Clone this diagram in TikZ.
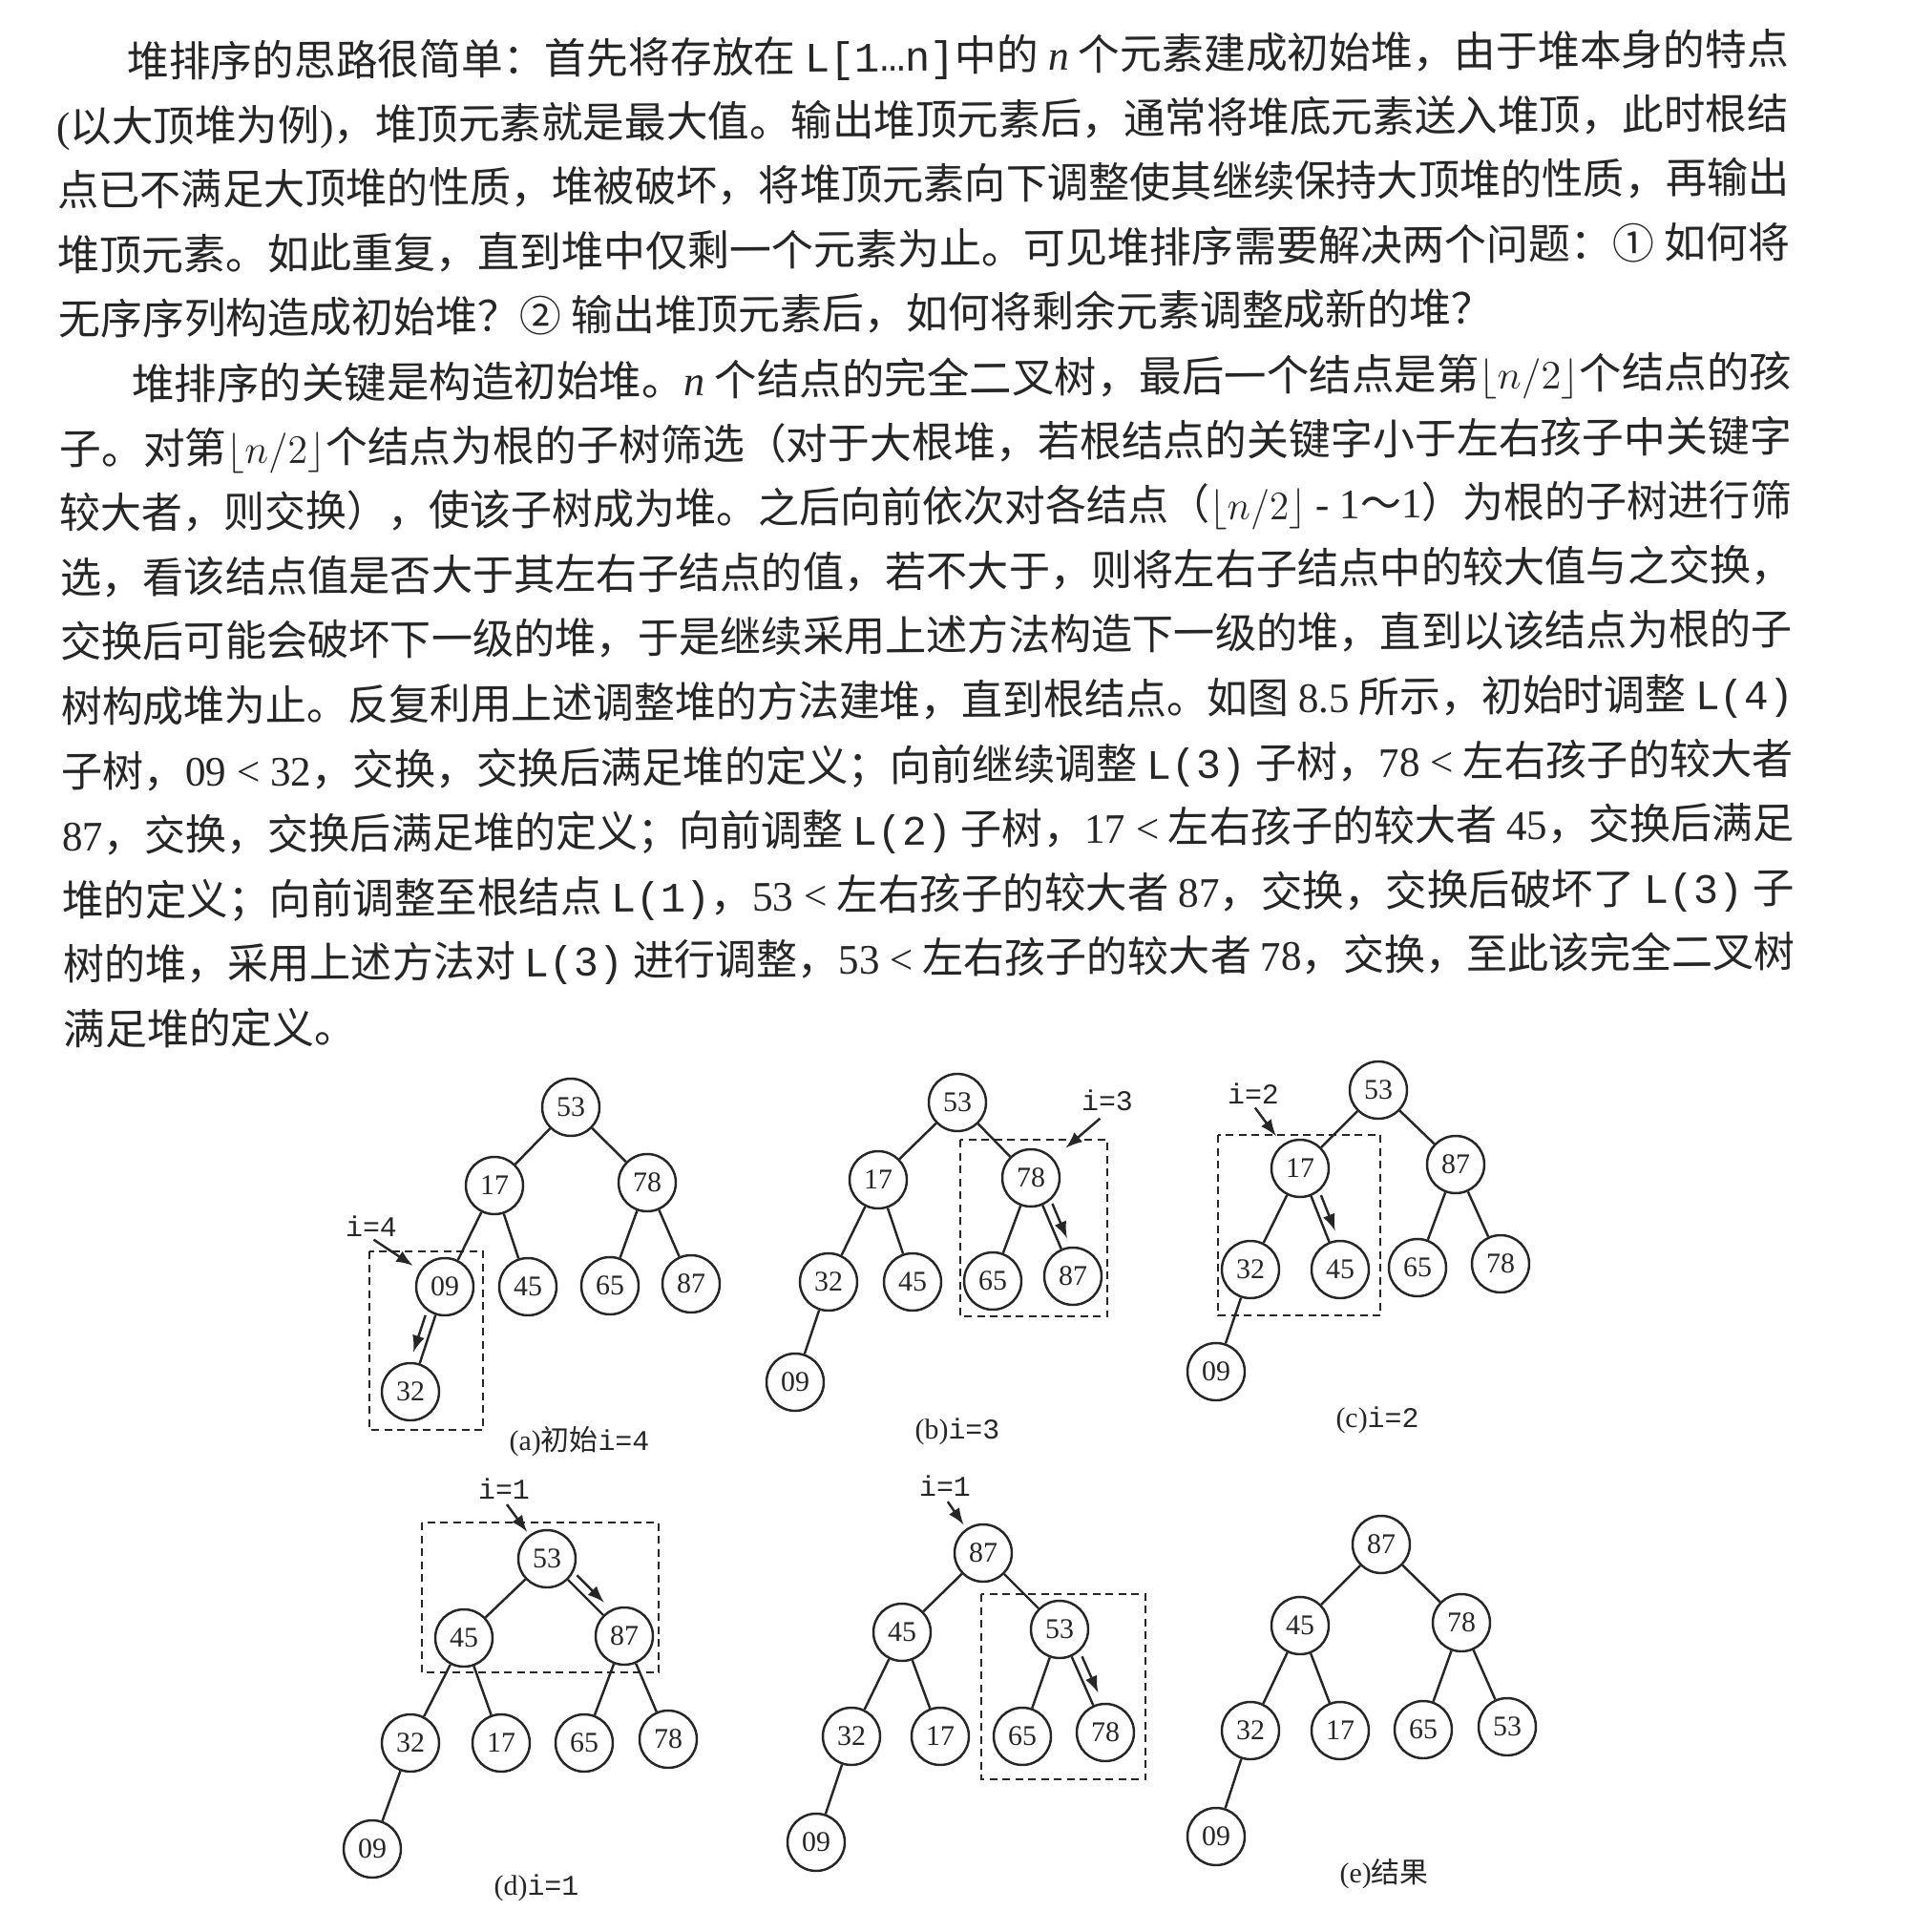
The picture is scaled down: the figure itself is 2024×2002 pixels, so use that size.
\documentclass[tikz,border=0pt]{standalone}
\usepackage{fontspec}
\usepackage{graphicx}
\setmainfont{Noto Sans CJK SC}
\setmonofont{Liberation Mono}
\newfontfamily\lat{Liberation Serif}
\usetikzlibrary{calc}
\newcommand\para[4]{\node[txt] at (#1,#2) {\resizebox{#3}{\height}{#4}};}
\newcommand\swap[3]{\draw[->] ($(#1)!.3!(#2)!1mm!#3:(#2)$) -- ($(#1)!.65!(#2)!1mm!#3:(#2)$);}
\tikzset{
  nd/.style={circle,draw,minimum size=6mm,inner sep=0pt,font=\lat\fontsize{8.5pt}{10pt}\selectfont},
  lbl/.style={inner sep=0pt,font=\ttfamily\fontsize{8.5pt}{10pt}\selectfont},
  capt/.style={inner sep=0pt,font=\fontsize{8.5pt}{10pt}\selectfont},
  dbox/.style={dash pattern=on .8mm off .55mm},
  txt/.style={anchor=base west,rotate=.45,inner sep=0pt,font=\fontsize{12.5pt}{15pt}\selectfont}
}
\begin{document}
\begin{tikzpicture}[x=.1mm,y=-.1mm,>=latex,line width=.7pt,color=black!85]
\fill[white] (0,0) rectangle (2024,2002);
\useasboundingbox (0,0) rectangle (2024,2002);
% text
\para{132}{81}{174.1mm}{堆排序的思路很简单：首先将存放在 \texttt{L[1…n]}中的 {\lat\itshape n} 个元素建成初始堆，由于堆本身的特点}
\para{58}{149}{181.5mm}{{\lat(}以大顶堆为例{\lat)}，堆顶元素就是最大值。输出堆顶元素后，通常将堆底元素送入堆顶，此时根结}
\para{59}{216}{181.5mm}{点已不满足大顶堆的性质，堆被破坏，将堆顶元素向下调整使其继续保持大顶堆的性质，再输出}
\para{59}{284}{181.5mm}{堆顶元素。如此重复，直到堆中仅剩一个元素为止。可见堆排序需要解决两个问题：① 如何将}
\node[txt] at (60,351) {无序序列构造成初始堆？② 输出堆顶元素后，如何将剩余元素调整成新的堆？};
\para{137}{419}{173.9mm}{堆排序的关键是构造初始堆。{\lat\itshape n} 个结点的完全二叉树，最后一个结点是第$\lfloor n/2\rfloor$个结点的孩}
\para{61}{487}{181.5mm}{子。对第$\lfloor n/2\rfloor$个结点为根的子树筛选（对于大根堆，若根结点的关键字小于左右孩子中关键字}
\para{61}{554}{181.5mm}{较大者，则交换），使该子树成为堆。之后向前依次对各结点（$\lfloor n/2\rfloor$ {\lat - 1}～{\lat 1}）为根的子树进行筛}
\para{62}{622}{181.5mm}{选，看该结点值是否大于其左右子结点的值，若不大于，则将左右子结点中的较大值与之交换，}
\para{62}{689}{181.5mm}{交换后可能会破坏下一级的堆，于是继续采用上述方法构造下一级的堆，直到以该结点为根的子}
\para{63}{757}{181.5mm}{树构成堆为止。反复利用上述调整堆的方法建堆，直到根结点。如图 {\lat 8.5} 所示，初始时调整 \texttt{L(4)}}
\para{63}{825}{181.5mm}{子树，{\lat 09 < 32}，交换，交换后满足堆的定义；向前继续调整 \texttt{L(3)} 子树，{\lat 78 <} 左右孩子的较大者}
\para{64}{892}{181.5mm}{{\lat 87}，交换，交换后满足堆的定义；向前调整 \texttt{L(2)} 子树，{\lat 17 <} 左右孩子的较大者 {\lat 45}，交换后满足}
\para{64}{960}{181.5mm}{堆的定义；向前调整至根结点 \texttt{L(1)}，{\lat 53 <} 左右孩子的较大者 {\lat 87}，交换，交换后破坏了 \texttt{L(3)} 子}
\para{65}{1027}{181.5mm}{树的堆，采用上述方法对 \texttt{L(3)} 进行调整，{\lat 53 <} 左右孩子的较大者 {\lat 78}，交换，至此该完全二叉树}
\node[txt] at (65,1095) {满足堆的定义。};
% (a)
\node[nd] (a53) at (598,1160) {53};
\node[nd] (a17) at (518,1242) {17}; \node[nd] (a78) at (678,1239) {78};
\node[nd] (a09) at (466,1348) {09}; \node[nd] (a45) at (553,1348) {45};
\node[nd] (a65) at (639,1347) {65}; \node[nd] (a87) at (724,1345) {87};
\node[nd] (a32) at (430,1458) {32};
\draw (a53)--(a17) (a53)--(a78) (a17)--(a09) (a17)--(a45) (a78)--(a65) (a78)--(a87) (a09)--(a32);
\draw[dbox] (387,1311) rectangle (506,1498);
\node[lbl] (i4) at (389,1285) {i=4};
\draw[->,shorten <=.3mm,shorten >=.9mm] (i4.south) -- (a09);
\swap{a09}{a32}{-90}
\node[capt] (capa) at (607,1510) {{\lat (a)}初始\texttt{i=4}};
% (b)
\node[nd] (b53) at (1003,1155) {53};
\node[nd] (b17) at (920,1236) {17}; \node[nd] (b78) at (1080,1234) {78};
\node[nd] (b32) at (868,1343) {32}; \node[nd] (b45) at (956,1343) {45};
\node[nd] (b65) at (1040,1342) {65}; \node[nd] (b87) at (1124,1337) {87};
\node[nd] (b09) at (833,1448) {09};
\draw (b53)--(b17) (b53)--(b78) (b17)--(b32) (b17)--(b45) (b78)--(b65) (b78)--(b87) (b32)--(b09);
\draw[dbox] (1006,1194) rectangle (1160,1379);
\node[lbl] (i3) at (1160,1153) {i=3};
\draw[->,shorten <=1mm,shorten >=1.7mm] (i3.south) -- (b78);
\swap{b78}{b87}{90}
\node[capt] (capb) at (1003,1500) {{\lat (b)}\texttt{i=3}};
% (c)
\node[nd] (c53) at (1444,1142) {53};
\node[nd] (c17) at (1362,1224) {17}; \node[nd] (c87) at (1525,1220) {87};
\node[nd] (c32) at (1310,1330) {32}; \node[nd] (c45) at (1404,1330) {45};
\node[nd] (c65) at (1485,1328) {65}; \node[nd] (c78) at (1572,1324) {78};
\node[nd] (c09) at (1274,1437) {09};
\draw (c53)--(c17) (c53)--(c87) (c17)--(c32) (c17)--(c45) (c87)--(c65) (c87)--(c78) (c32)--(c09);
\draw[dbox] (1276,1189) rectangle (1446,1378);
\node[lbl] (i2) at (1313,1146) {i=2};
\draw[->,shorten <=.3mm,shorten >=1.1mm] (i2.south) -- (c17);
\swap{c17}{c45}{90}
\node[capt] (capc) at (1443,1488) {{\lat (c)}\texttt{i=2}};
% (d)
\node[nd] (d53) at (573,1633) {53};
\node[nd] (d45) at (486,1716) {45}; \node[nd] (d87) at (654,1714) {87};
\node[nd] (d32) at (430,1826) {32}; \node[nd] (d17) at (525,1826) {17};
\node[nd] (d65) at (612,1826) {65}; \node[nd] (d78) at (700,1822) {78};
\node[nd] (d09) at (390,1937) {09};
\draw (d53)--(d45) (d53)--(d87) (d45)--(d32) (d45)--(d17) (d87)--(d65) (d87)--(d78) (d32)--(d09);
\draw[dbox] (442,1595) rectangle (690,1752);
\node[lbl] (i1) at (528,1560) {i=1};
\draw[->,shorten <=.5mm,shorten >=.4mm] (i1.south) -- (d53);
\swap{d53}{d87}{90}
\node[capt] (capd) at (562,1978) {{\lat (d)}\texttt{i=1}};
% (d) continued
\node[nd] (f87) at (1030,1627) {87};
\node[nd] (f45) at (945,1710) {45}; \node[nd] (f53) at (1110,1707) {53};
\node[nd] (f32) at (892,1819) {32}; \node[nd] (f17) at (985,1819) {17};
\node[nd] (f65) at (1071,1819) {65}; \node[nd] (f78) at (1158,1815) {78};
\node[nd] (f09) at (855,1930) {09};
\draw (f87)--(f45) (f87)--(f53) (f45)--(f32) (f45)--(f17) (f53)--(f65) (f53)--(f78) (f32)--(f09);
\draw[dbox] (1028,1670) rectangle (1200,1864);
\node[lbl] (j1) at (990,1557) {i=1};
\draw[->,shorten <=.5mm,shorten >=.5mm] (j1.south) -- (f87);
\swap{f53}{f78}{90}
% (e)
\node[nd] (e87) at (1447,1618) {87};
\node[nd] (e45) at (1362,1703) {45}; \node[nd] (e78) at (1531,1700) {78};
\node[nd] (e32) at (1310,1813) {32}; \node[nd] (e17) at (1404,1813) {17};
\node[nd] (e65) at (1491,1812) {65}; \node[nd] (e53) at (1579,1809) {53};
\node[nd] (e09) at (1274,1924) {09};
\draw (e87)--(e45) (e87)--(e78) (e45)--(e32) (e45)--(e17) (e78)--(e65) (e78)--(e53) (e32)--(e09);
\node[capt] (cape) at (1450,1963) {{\lat (e)}结果};
\end{tikzpicture}
\end{document}
